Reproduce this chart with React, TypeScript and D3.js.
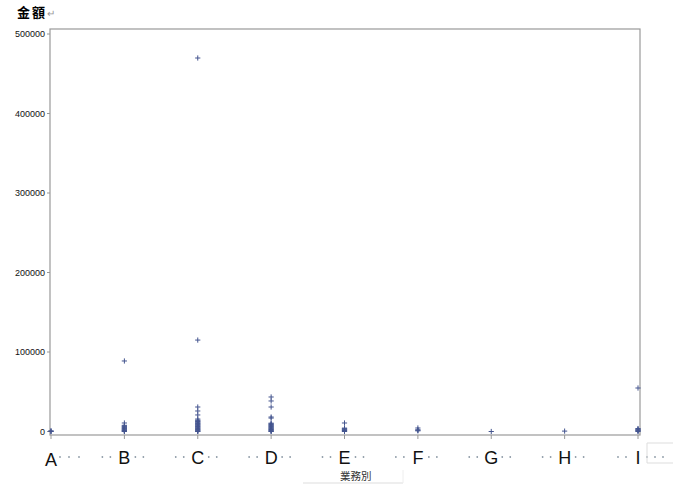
import React from "react";
import * as d3 from "d3";

const categories = ["A", "B", "C", "D", "E", "F", "G", "H", "I"];
const yTicks = [0, 100000, 200000, 300000, 400000, 500000];

const valuesA = [0, 300, 800];
const valuesB = [88700, 10700, 7800, 6900, 6100, 5200, 4400, 3600, 2900, 2100, 1500, 900, 400, 0];
const valuesC = [469800, 115000, 30800, 25800, 20800, 15700, 14300, 13500, 12600, 11800, 10900, 10200, 9400, 8600, 7900, 7100, 6200, 5500, 4700, 3900, 3100, 2400, 1600, 900, 300, 0];
const valuesD = [43400, 38400, 30800, 18200, 16900, 10500, 9700, 8900, 8000, 7300, 6400, 5600, 4800, 4000, 3300, 2500, 1700, 1000, 400, 0];
const valuesE = [10700, 4300, 3500, 2800, 2000, 1300, 600, 0];
const valuesF = [4400, 2200, 1500, 800];
const valuesG = [0];
const valuesH = [500];
const valuesI = [54700, 3700, 2900, 2100, 1400, 700, 0];

const seriesValues = [valuesA, valuesB, valuesC, valuesD, valuesE, valuesF, valuesG, valuesH, valuesI];

export default function App() {
  const W = 673, H = 486;
  const frame = { left: 50, top: 29, right: 640, bottom: 435 };
  const x = d3.scalePoint<string>().domain(categories).range([51, 638]).padding(0);
  const y = d3.scaleLinear().domain([0, 500000]).range([431.5, 34]);
  const mark = "#44558f";

  const dotOffsets = (i: number) => {
    if (i === 0) return [9, 18, 28];
    if (i === categories.length - 1) return [-20, -12, 9, 17, 25];
    return [-22, -14, 11, 19];
  };

  return (
    <svg width={W} height={H} style={{ position: "absolute", left: 0, top: 0, background: "#fff" }}>
      <rect x={0} y={0} width={W} height={H} fill="#fff" />
      <text x={17} y={17} fontFamily="'Noto Sans CJK TC', 'Noto Sans CJK JP', sans-serif" fontWeight="bold" fontSize={13} letterSpacing={2} fill="#000">
        金額<tspan fontSize={10} fontWeight="normal" fill="#999">↵</tspan>
      </text>
      <rect x={frame.left} y={frame.top} width={frame.right - frame.left} height={frame.bottom - frame.top} fill="none" stroke="#999" strokeWidth={1.2} />
      {yTicks.map((t) => (
        <g key={t}>
          <line x1={frame.left - 3} x2={frame.left} y1={y(t)} y2={y(t)} stroke="#999" strokeWidth={1} />
          <text x={45} y={y(t) + 3.2} textAnchor="end" fontFamily="'Liberation Sans', Arial, sans-serif" fontSize={9} fill="#111">
            {t}
          </text>
        </g>
      ))}
      {categories.map((c, i) => {
        const cx = x(c)!;
        return (
          <g key={c}>
            <line x1={cx} x2={cx} y1={frame.bottom} y2={frame.bottom + 4} stroke="#999" strokeWidth={1} />
            <text x={cx} y={i === 0 ? 466 : 464} textAnchor="middle" fontFamily="'Liberation Sans', Arial, sans-serif" fontSize={18} fill="#111">
              {c}
            </text>
            {dotOffsets(i).map((o) => (
              <circle key={o} cx={cx + o} cy={457} r={0.9} fill="#8d9aa6" />
            ))}
          </g>
        );
      })}
      {seriesValues.map((vals, i) =>
        vals.map((v, j) => {
          const cx = x(categories[i])!;
          const cy = y(v);
          return (
            <path key={`${i}-${j}`} d={`M${cx - 2.6},${cy}H${cx + 2.6}M${cx},${cy - 2.6}V${cy + 2.6}`} stroke={mark} strokeWidth={1} fill="none" />
          );
        })
      )}
      <text x={340} y={480} fontFamily="'Noto Sans CJK JP', sans-serif" fontSize={10.5} fill="#333">
        業務別
      </text>
      <line x1={303} x2={403} y1={483} y2={483} stroke="#ddd" strokeWidth={1} />
      <line x1={403} x2={403} y1={470} y2={483} stroke="#eee" strokeWidth={1} />
      <path d="M673,443H647V463H673" fill="none" stroke="#ddd" strokeWidth={1} />
    </svg>
  );
}
